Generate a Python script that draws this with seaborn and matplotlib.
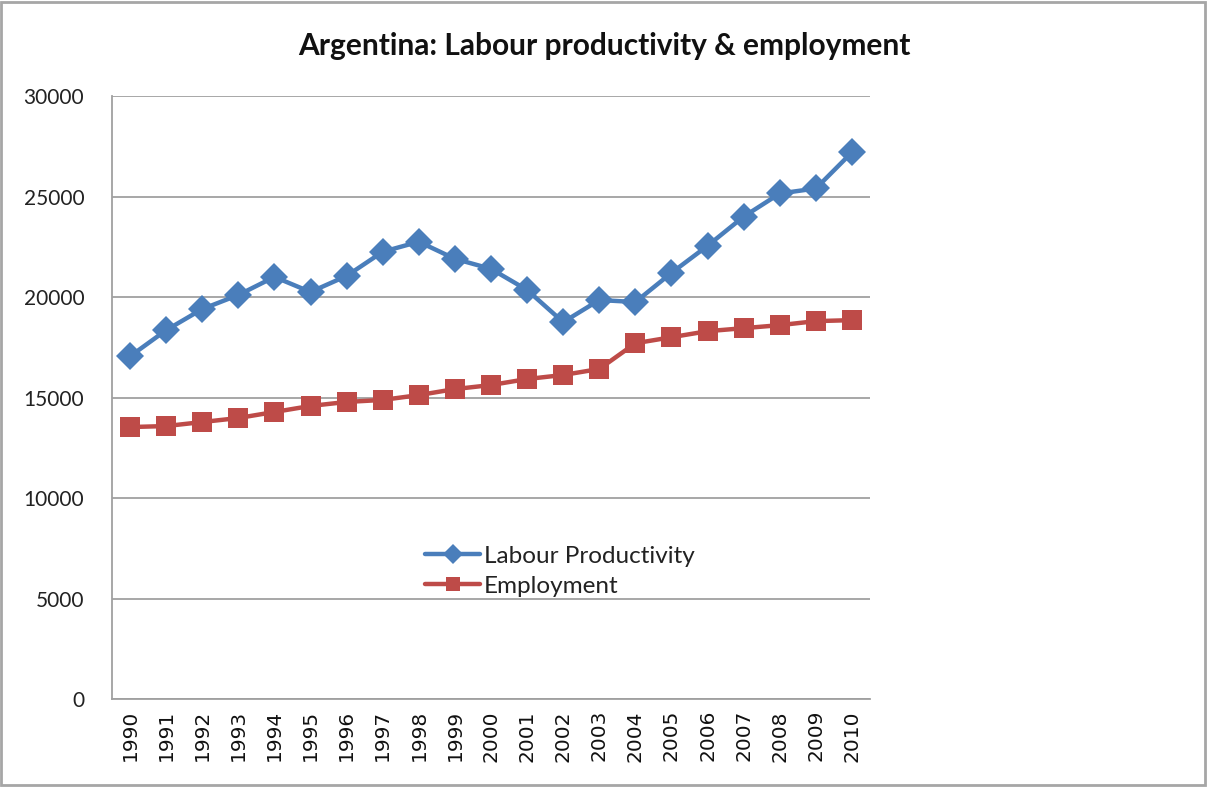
import matplotlib
matplotlib.use("Agg")
import matplotlib.pyplot as plt
from matplotlib.patches import Rectangle
import pandas as pd
import seaborn as sns

years = [str(y) for y in range(1990, 2011)]
labour_productivity = [17050, 18350, 19400, 20100, 21000, 20250, 21050, 22250,
                       22750, 21900, 21400, 20350, 18750, 19850, 19750, 21200,
                       22550, 24000, 25150, 25400, 27200]
employment = [13530, 13580, 13780, 13980, 14280, 14580, 14780, 14880, 15120,
              15420, 15620, 15920, 16120, 16420, 17700, 18000, 18300, 18450,
              18600, 18800, 18850]
series_names = ["Labour Productivity", "Employment"]
y_ticks = [0, 5000, 10000, 15000, 20000, 25000, 30000]

df = pd.DataFrame({
    "Year": years * 2,
    "Value": labour_productivity + employment,
    "Series": [series_names[0]] * len(years) + [series_names[1]] * len(years),
})

sns.set_theme(style="white")
plt.rcParams["font.family"] = ["Lato", "DejaVu Sans"]

fig = plt.figure(figsize=(12.07, 7.87), dpi=100)
ax = fig.add_axes([0.0928, 0.1118, 0.6280, 0.7662])

palette = {series_names[0]: "#4a7ebb", series_names[1]: "#be4b48"}
markers = {series_names[0]: "D", series_names[1]: "s"}
sns.lineplot(data=df, x="Year", y="Value", hue="Series", style="Series",
             palette=palette, markers=markers, dashes=False, linewidth=3.2,
             markersize=14, markeredgewidth=0, ax=ax, sort=False)

ax.set_xlim(-0.5, len(years) - 0.5)
ax.set_ylim(0, 30000)
ax.set_yticks(y_ticks)
ax.set_yticklabels([str(t) for t in y_ticks], fontsize=15, color="#222222")
ax.set_xticks(range(len(years)))
ax.set_xticklabels(years, rotation=90, fontsize=14.5, color="#111111",
                   family="DejaVu Sans")
ax.tick_params(axis="y", pad=20, length=0)
ax.tick_params(axis="x", pad=8, length=0)
ax.set_xlabel("")
ax.set_ylabel("")

ax.yaxis.grid(True, color="#a0a0a0", linewidth=1.3)
ax.xaxis.grid(False)
for side in ["top", "right"]:
    ax.spines[side].set_visible(False)
for side in ["left", "bottom"]:
    ax.spines[side].set_color("#a0a0a0")
    ax.spines[side].set_linewidth(1.3)

leg = ax.legend(frameon=False, fontsize=17.5, loc="center left",
                bbox_to_anchor=(0.413, 0.212), handlelength=2.26,
                handletextpad=0.16, labelspacing=0.36, borderpad=0,
                borderaxespad=0)
for h in leg.legend_handles:
    h.set_markersize(10)
for t in leg.get_texts():
    t.set_color("#222222")

fig.text(0.5005, 0.942, "Argentina: Labour productivity & employment",
         ha="center", va="center", fontsize=21.5, fontweight="bold",
         color="#111111")

fig.patches.append(Rectangle((0.001, 0.002), 0.997, 0.995, transform=fig.transFigure,
                             fill=False, edgecolor="#a6a6a6", linewidth=2))

fig.savefig("out.png", dpi=100)
